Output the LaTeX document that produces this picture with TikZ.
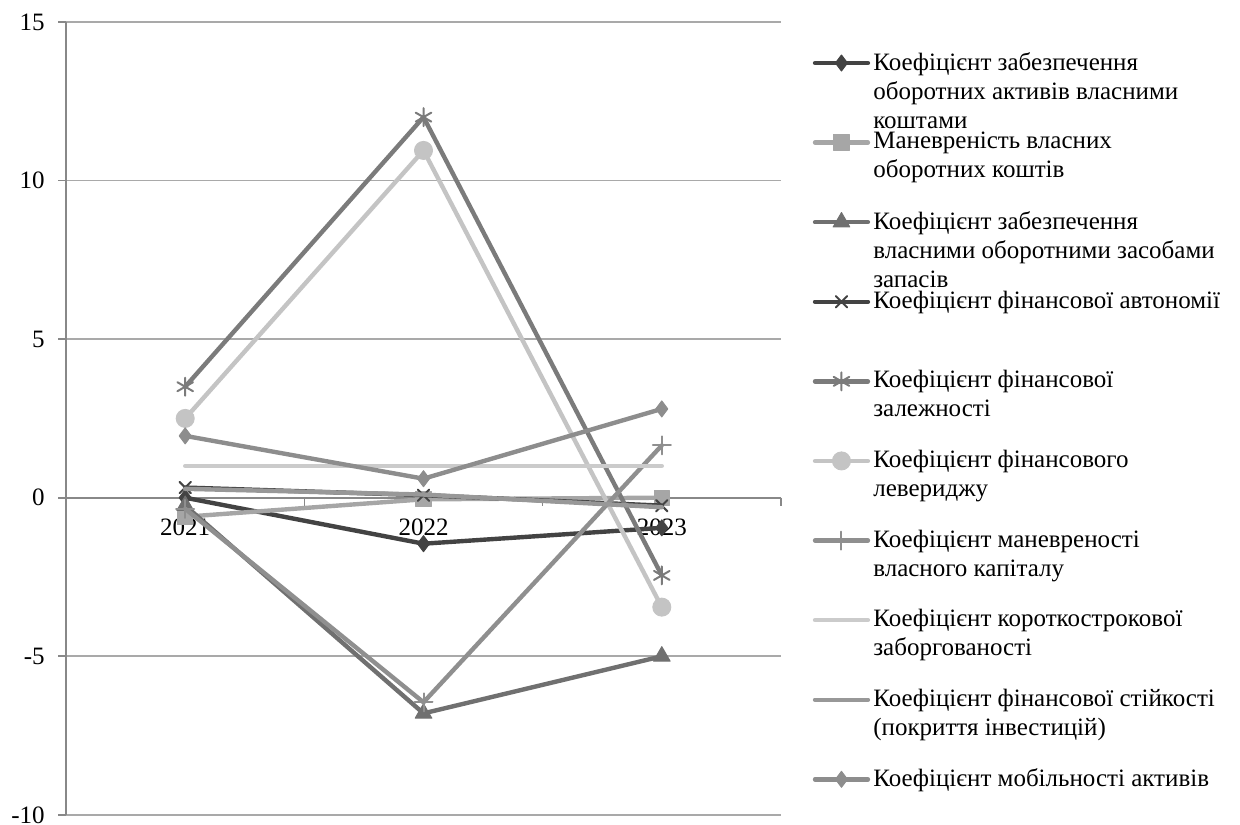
\documentclass[tikz,border=0pt]{standalone}
\usepackage{fontspec}
\setmainfont{Liberation Serif}
\usepackage{tikz}
\usetikzlibrary{plotmarks}
\definecolor{grid}{HTML}{A9A9A9}
\definecolor{axis}{HTML}{888888}
\definecolor{sdark}{HTML}{434343}
\definecolor{ssquare}{HTML}{A6A6A6}
\definecolor{stri}{HTML}{707070}
\definecolor{sstar}{HTML}{7B7B7B}
\definecolor{scirc}{HTML}{C4C4C4}
\definecolor{splus}{HTML}{8F8F8F}
\definecolor{sshort}{HTML}{CBCBCB}
\definecolor{sstab}{HTML}{989898}
\definecolor{smob}{HTML}{8D8D8D}

\begin{document}
\begin{tikzpicture}[x=119.17pt,y=15.86pt,font=\fontsize{12.5}{14.5}\selectfont,
  serline/.style={line width=2.2pt,line join=round,line cap=round,mark options={solid,line width=0.5pt}},
  ser1/.style={serline,sdark,mark=diamond*,mark size=4pt},
  ser2/.style={serline,ssquare,mark=square*,mark size=3.8pt},
  ser3/.style={serline,stri,mark=triangle*,mark size=4.8pt},
  ser4/.style={serline,sdark,mark=x,mark size=4pt,mark options={line width=1pt}},
  ser5/.style={serline,sstar,mark=asterisk,mark size=4.5pt,mark options={line width=1pt}},
  ser6/.style={serline,scirc,mark=*,mark size=4.5pt},
  ser7/.style={serline,splus,mark=+,mark size=4.5pt,mark options={line width=1pt}},
  ser8/.style={serline,sshort},
  ser9/.style={serline,sstab},
  ser10/.style={serline,smob,mark=diamond*,mark size=4pt},
  legtext/.style={anchor=north west,align=left,inner sep=0pt,yshift=5.6pt}]
  \useasboundingbox (0.2228,-10.315) rectangle (5.4264,15.694);
  % grid
  \foreach \v in {15,10,5,-5,-10}{
    \draw[grid,line width=0.9pt] (0.5,\v) -- (3.5,\v);}
  \foreach \v [count=\i] in {15,10,5,0,-5,-10}{
    \draw[axis,line width=0.8pt] (0.4663,\v) -- (0.5,\v);
    \node[left,inner sep=0pt] (ylab\i) at (0.4117,\v) {\v};}
  \draw[axis,line width=0.8pt] (0.5,15) -- (0.5,-10);
  \draw[axis,line width=0.8pt] (0.5,0) -- (3.5,0);
  \foreach \c in {1.5,2.5,3.5}
    \draw[axis,line width=0.8pt] (\c,0) -- (\c,-0.25);
  \foreach \yr [count=\i] in {2021,2022,2023}
    \node (year\i) at (\i,-0.92) {\yr};
  % series
  \draw[ser1] plot coordinates {(1,0)(2,-1.45)(3,-0.95)};
  \draw[ser2] plot coordinates {(1,-0.6)(2,-0.05)(3,0)};
  \draw[ser3] plot coordinates {(1,-0.25)(2,-6.8)(3,-5)};
  \draw[ser4] plot coordinates {(1,0.32)(2,0.08)(3,-0.25)};
  \draw[ser5] plot coordinates {(1,3.5)(2,12)(3,-2.45)};
  \draw[ser6] plot coordinates {(1,2.5)(2,10.95)(3,-3.45)};
  \draw[ser7] plot coordinates {(1,-0.35)(2,-6.45)(3,1.65)};
  \draw[ser8] plot coordinates {(1,1)(2,1)(3,1)};
  \draw[ser9] plot coordinates {(1,0.28)(2,0.1)(3,-0.3)};
  \draw[ser10] plot coordinates {(1,1.95)(2,0.6)(3,2.8)};
  % legend
  \draw[ser1] plot[mark indices={2}] coordinates {(3.643,13.707)(3.754,13.707)(3.865,13.707)};
  \node[legtext] (leg1) at (3.886,13.707) {Коефіцієнт забезпечення\\оборотних активів власними\\коштами};
  \draw[ser2] plot[mark indices={2}] coordinates {(3.643,11.198)(3.754,11.198)(3.865,11.198)};
  \node[legtext] (leg2) at (3.886,11.198) {Маневреність власних\\оборотних коштів};
  \draw[ser3] plot[mark indices={2}] coordinates {(3.643,8.688)(3.754,8.688)(3.865,8.688)};
  \node[legtext] (leg3) at (3.886,8.688) {Коефіцієнт забезпечення\\власними оборотними засобами\\запасів};
  \draw[ser4] plot[mark indices={2}] coordinates {(3.643,6.179)(3.754,6.179)(3.865,6.179)};
  \node[legtext] (leg4) at (3.886,6.179) {Коефіцієнт фінансової автономії};
  \draw[ser5] plot[mark indices={2}] coordinates {(3.643,3.669)(3.754,3.669)(3.865,3.669)};
  \node[legtext] (leg5) at (3.886,3.669) {Коефіцієнт фінансової\\залежності};
  \draw[ser6] plot[mark indices={2}] coordinates {(3.643,1.160)(3.754,1.160)(3.865,1.160)};
  \node[legtext] (leg6) at (3.886,1.160) {Коефіцієнт фінансового\\левериджу};
  \draw[ser7] plot[mark indices={2}] coordinates {(3.643,-1.350)(3.754,-1.350)(3.865,-1.350)};
  \node[legtext] (leg7) at (3.886,-1.350) {Коефіцієнт маневреності\\власного капіталу};
  \draw[ser8] (3.643,-3.860) -- (3.865,-3.860);
  \node[legtext] (leg8) at (3.886,-3.860) {Коефіцієнт короткострокової\\заборгованості};
  \draw[ser9] (3.643,-6.369) -- (3.865,-6.369);
  \node[legtext] (leg9) at (3.886,-6.369) {Коефіцієнт фінансової стійкості\\(покриття інвестицій)};
  \draw[ser10] plot[mark indices={2}] coordinates {(3.643,-8.879)(3.754,-8.879)(3.865,-8.879)};
  \node[legtext] (leg10) at (3.886,-8.879) {Коефіцієнт мобільності активів};
\end{tikzpicture}
\end{document}
